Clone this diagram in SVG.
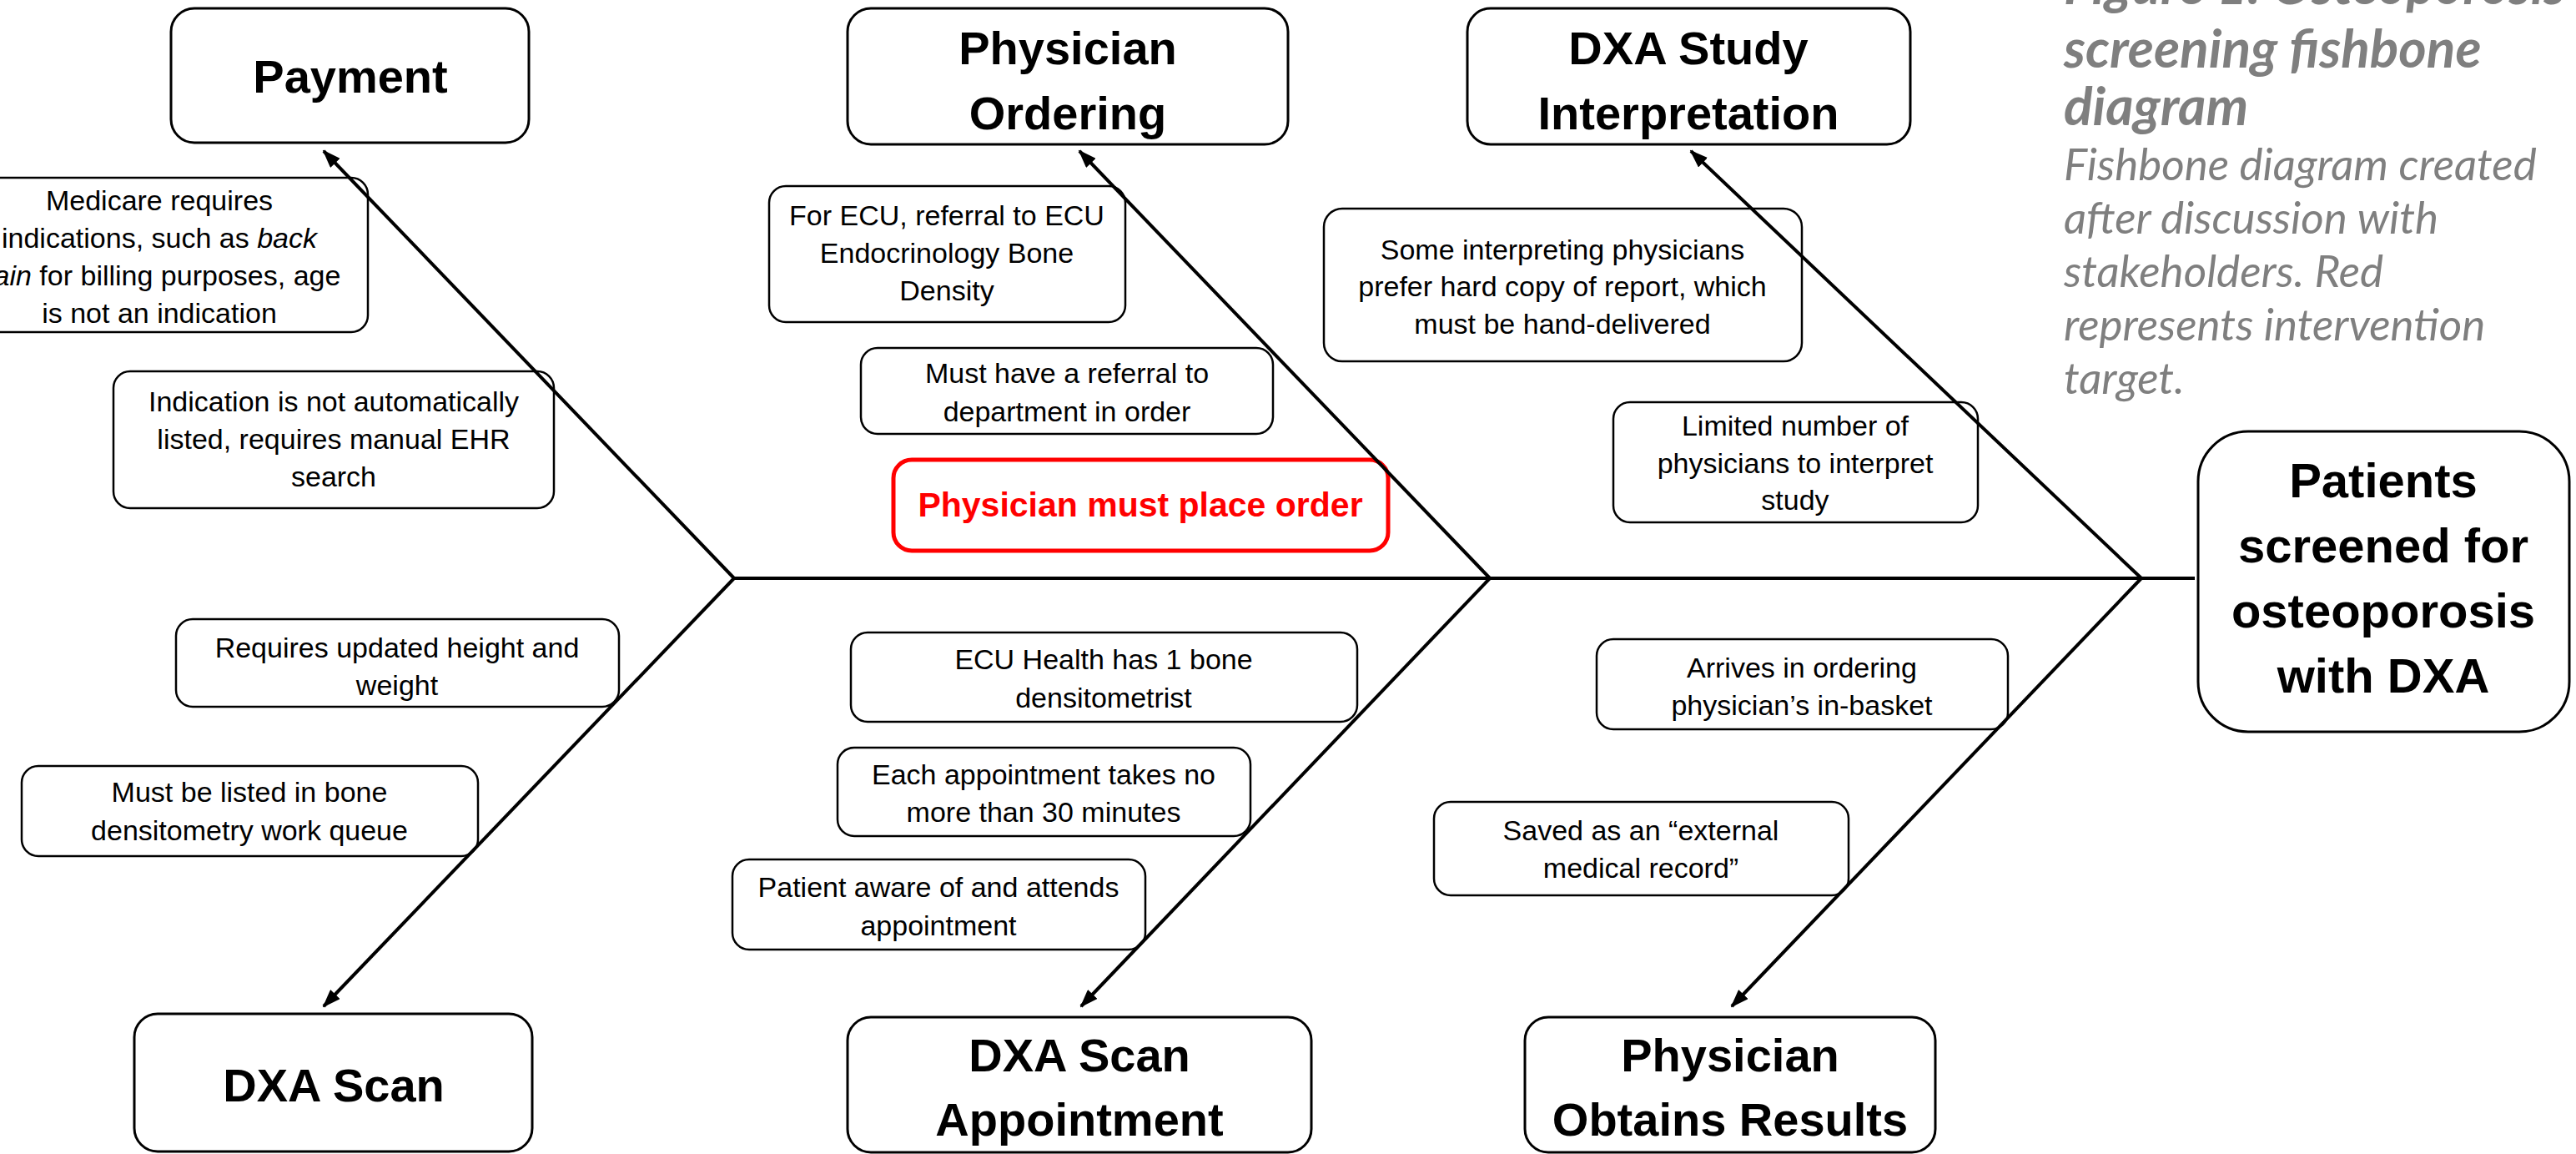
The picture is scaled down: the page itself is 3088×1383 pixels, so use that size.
<svg xmlns="http://www.w3.org/2000/svg" width="3088" height="1383" viewBox="0 0 3088 1383">
<style>
.hb{fill:#fff;stroke:#000;stroke-width:3}
.sb{fill:#fff;stroke:#000;stroke-width:2.5}
.rb{fill:#fff;stroke:#ff0000;stroke-width:5}
.ht{font-family:"Liberation Sans",Arial,sans-serif;font-weight:bold;font-size:56px;fill:#000;text-anchor:middle}
.pt{font-family:"Liberation Sans",Arial,sans-serif;font-weight:bold;font-size:58px;fill:#000;text-anchor:middle}
.bt{font-family:"Liberation Sans",Arial,sans-serif;font-size:34px;fill:#000;text-anchor:middle}
.rt{font-family:"Liberation Sans",Arial,sans-serif;font-weight:bold;font-size:41px;fill:#ff0000;text-anchor:middle}
.tt{font-family:Lato,"Liberation Sans",sans-serif;font-style:italic;fill:#7f7f7f}
.bone{stroke:#000;stroke-width:4;fill:none}
</style>
<defs>
<marker id="ah" markerUnits="userSpaceOnUse" markerWidth="22" markerHeight="16" viewBox="0 0 22 16" refX="20" refY="8" orient="auto">
<path d="M0,0 L22,8 L0,16 z" fill="#000"/>
</marker>
</defs>

<g id="title">
<text class="tt" x="2474" y="5" font-weight="bold" font-size="64">Figure 1. Osteoporosis</text>
<text class="tt" x="2474" y="81" font-weight="bold" font-size="64">screening fishbone</text>
<text class="tt" x="2474" y="150" font-weight="bold" font-size="64">diagram</text>
<text class="tt" x="2474" y="216" font-size="53">Fishbone diagram created</text>
<text class="tt" x="2474" y="280" font-size="53">after discussion with</text>
<text class="tt" x="2474" y="344" font-size="53">stakeholders. Red</text>
<text class="tt" x="2474" y="408" font-size="53">represents intervention</text>
<text class="tt" x="2474" y="472" font-size="53">target.</text>
</g>

<g id="payment">
<rect class="hb" x="205" y="10" width="429" height="161" rx="28"/>
<text class="ht" x="420" y="111">Payment</text>
</g>
<g id="physician-ordering">
<rect class="hb" x="1016" y="10" width="528" height="163" rx="28"/>
<text class="ht" x="1280" y="77">Physician</text>
<text class="ht" x="1280" y="155">Ordering</text>
</g>
<g id="dxa-study-interpretation">
<rect class="hb" x="1759" y="10" width="531" height="163" rx="28"/>
<text class="ht" x="2024" y="77">DXA Study</text>
<text class="ht" x="2024" y="155">Interpretation</text>
</g>
<g id="patients-screened">
<rect class="hb" x="2635" y="517" width="445" height="360" rx="60"/>
<text class="pt" x="2857" y="596">Patients</text>
<text class="pt" x="2857" y="674">screened for</text>
<text class="pt" x="2857" y="752">osteoporosis</text>
<text class="pt" x="2857" y="830">with DXA</text>
</g>
<g id="dxa-scan">
<rect class="hb" x="161" y="1215" width="477" height="165" rx="28"/>
<text class="ht" x="400" y="1320">DXA Scan</text>
</g>
<g id="dxa-scan-appointment">
<rect class="hb" x="1016" y="1219" width="556" height="162" rx="28"/>
<text class="ht" x="1294" y="1284">DXA Scan</text>
<text class="ht" x="1294" y="1361">Appointment</text>
</g>
<g id="physician-obtains-results">
<rect class="hb" x="1828" y="1219" width="492" height="162" rx="28"/>
<text class="ht" x="2074" y="1284">Physician</text>
<text class="ht" x="2074" y="1361">Obtains Results</text>
</g>

<g id="medicare">
<rect class="sb" x="-59" y="213" width="500" height="185" rx="20"/>
<text class="bt" x="191" y="252">Medicare requires</text>
<text class="bt" x="191" y="297">indications, such as <tspan font-style="italic">back</tspan></text>
<text class="bt" x="191" y="342"><tspan font-style="italic">pain</tspan> for billing purposes, age</text>
<text class="bt" x="191" y="387">is not an indication</text>
</g>
<g id="indication">
<rect class="sb" x="136" y="445" width="528" height="164" rx="20"/>
<text class="bt" x="400" y="493">Indication is not automatically</text>
<text class="bt" x="400" y="538">listed, requires manual EHR</text>
<text class="bt" x="400" y="583">search</text>
</g>
<g id="height-weight">
<rect class="sb" x="211" y="742" width="531" height="105" rx="20"/>
<text class="bt" x="476" y="788">Requires updated height and</text>
<text class="bt" x="476" y="833">weight</text>
</g>
<g id="work-queue">
<rect class="sb" x="26" y="918" width="547" height="108" rx="20"/>
<text class="bt" x="299" y="961">Must be listed in bone</text>
<text class="bt" x="299" y="1007">densitometry work queue</text>
</g>
<g id="ecu-referral">
<rect class="sb" x="922" y="223" width="427" height="163" rx="20"/>
<text class="bt" x="1135" y="270">For ECU, referral to ECU</text>
<text class="bt" x="1135" y="315">Endocrinology Bone</text>
<text class="bt" x="1135" y="360">Density</text>
</g>
<g id="referral-department">
<rect class="sb" x="1032" y="417" width="494" height="103" rx="20"/>
<text class="bt" x="1279" y="459">Must have a referral to</text>
<text class="bt" x="1279" y="505">department in order</text>
</g>
<g id="place-order">
<rect class="rb" x="1071" y="551" width="593" height="109" rx="22"/>
<text class="rt" x="1367" y="619">Physician must place order</text>
</g>
<g id="hard-copy">
<rect class="sb" x="1587" y="250" width="573" height="183" rx="22"/>
<text class="bt" x="1873" y="311">Some interpreting physicians</text>
<text class="bt" x="1873" y="355">prefer hard copy of report, which</text>
<text class="bt" x="1873" y="400">must be hand-delivered</text>
</g>
<g id="limited-physicians">
<rect class="sb" x="1934" y="482" width="437" height="144" rx="20"/>
<text class="bt" x="2152" y="522">Limited number of</text>
<text class="bt" x="2152" y="567">physicians to interpret</text>
<text class="bt" x="2152" y="611">study</text>
</g>
<g id="densitometrist">
<rect class="sb" x="1020" y="758" width="607" height="107" rx="20"/>
<text class="bt" x="1323" y="802">ECU Health has 1 bone</text>
<text class="bt" x="1323" y="848">densitometrist</text>
</g>
<g id="appointment-time">
<rect class="sb" x="1004" y="896" width="495" height="106" rx="20"/>
<text class="bt" x="1251" y="940">Each appointment takes no</text>
<text class="bt" x="1251" y="985">more than 30 minutes</text>
</g>
<g id="patient-attends">
<rect class="sb" x="878" y="1030" width="495" height="108" rx="20"/>
<text class="bt" x="1125" y="1075">Patient aware of and attends</text>
<text class="bt" x="1125" y="1121">appointment</text>
</g>
<g id="in-basket">
<rect class="sb" x="1914" y="766" width="493" height="108" rx="20"/>
<text class="bt" x="2160" y="812">Arrives in ordering</text>
<text class="bt" x="2160" y="857">physician’s in-basket</text>
</g>
<g id="external-record">
<rect class="sb" x="1719" y="961" width="497" height="112" rx="20"/>
<text class="bt" x="1967" y="1007">Saved as an “external</text>
<text class="bt" x="1967" y="1052">medical record”</text>
</g>

<g id="connectors">
<line class="bone" x1="880" y1="693" x2="2631" y2="693"/>
<line class="bone" x1="880" y1="693" x2="388" y2="181" marker-end="url(#ah)"/>
<line class="bone" x1="880" y1="693" x2="388" y2="1206" marker-end="url(#ah)"/>
<line class="bone" x1="1786" y1="693" x2="1294" y2="181" marker-end="url(#ah)"/>
<line class="bone" x1="1786" y1="693" x2="1296" y2="1206" marker-end="url(#ah)"/>
<line class="bone" x1="2567" y1="693" x2="2027" y2="181" marker-end="url(#ah)"/>
<line class="bone" x1="2567" y1="693" x2="2076" y2="1206" marker-end="url(#ah)"/>
</g>
</svg>
